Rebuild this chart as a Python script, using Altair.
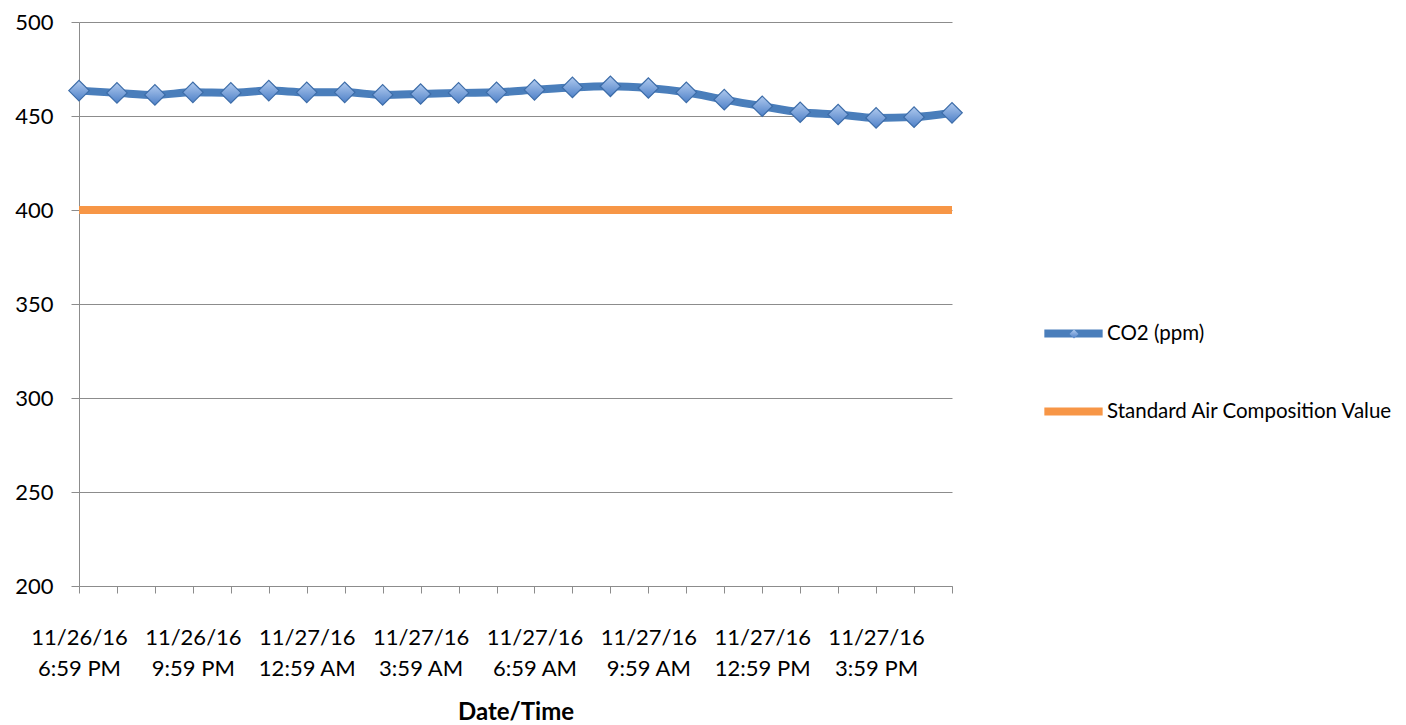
import json
import altair as alt
import pandas as pd

# ---- data ----
timestamps = [
    "11/26/16 6:59 PM", "11/26/16 7:59 PM", "11/26/16 8:59 PM", "11/26/16 9:59 PM",
    "11/26/16 10:59 PM", "11/26/16 11:59 PM", "11/27/16 12:59 AM", "11/27/16 1:59 AM",
    "11/27/16 2:59 AM", "11/27/16 3:59 AM", "11/27/16 4:59 AM", "11/27/16 5:59 AM",
    "11/27/16 6:59 AM", "11/27/16 7:59 AM", "11/27/16 8:59 AM", "11/27/16 9:59 AM",
    "11/27/16 10:59 AM", "11/27/16 11:59 AM", "11/27/16 12:59 PM", "11/27/16 1:59 PM",
    "11/27/16 2:59 PM", "11/27/16 3:59 PM", "11/27/16 4:59 PM", "11/27/16 5:59 PM",
]
co2_ppm = [
    463.5, 462.3, 461.2, 462.6, 462.3, 463.5, 462.6, 462.6,
    461.2, 461.7, 462.3, 462.6, 463.9, 465.2, 465.8, 464.9,
    462.6, 458.7, 455.2, 452.0, 450.8, 449.0, 449.4, 451.7,
]
standard_air = [400] * 24
series_names = ["CO2 (ppm)", "Standard Air Composition Value"]
series_colors = ["#4A7EBB", "#F79646"]
y_ticks = [200, 250, 300, 350, 400, 450, 500]

label_dates = [t.split(" ", 1)[0] for t in timestamps]
label_times = [t.split(" ", 1)[1] for t in timestamps]

idx = list(range(len(timestamps)))
df_co2 = pd.DataFrame({"idx": idx, "value": co2_ppm, "series": series_names[0],
                       "marker": series_names[0], "time": timestamps})
df_std = pd.DataFrame({"idx": idx, "value": standard_air, "series": series_names[1], "time": timestamps})
df = pd.concat([df_std, df_co2.drop(columns=["marker"])], ignore_index=True)

FONT = "Lato"
GRAY = "#8C8C8C"

label_expr = (
    "round(datum.value) % 3 == 0 ? ["
    + json.dumps(label_dates) + "[round(datum.value)], "
    + json.dumps(label_times) + "[round(datum.value)]] : ''"
)

x_enc = alt.X(
    "idx:Q",
    scale=alt.Scale(domain=[0, len(timestamps) - 1], nice=False, zero=False),
    axis=alt.Axis(
        values=idx, tickCount=len(idx), labelExpr=label_expr, grid=False,
        domainColor=GRAY, tickColor=GRAY, tickSize=7, domainWidth=1, tickWidth=1,
        labelFont=FONT, labelFontSize=22, labelColor="black", labelLineHeight=31,
        labelPadding=34, labelAngle=0, labelOverlap=False, labelFlush=False,
        labelBound=False,
        title="Date/Time", titleFont=FONT, titleFontSize=24, titleFontWeight="bold",
        titleColor="black", titleY=133, titleBaseline="alphabetic",
    ),
)
y_enc = alt.Y(
    "value:Q",
    scale=alt.Scale(domain=[200, 500], nice=False, zero=False),
    axis=alt.Axis(
        values=y_ticks, grid=True, gridColor=GRAY, gridWidth=1,
        domainColor=GRAY, tickColor=GRAY, tickSize=8, domainWidth=1,
        labelFont=FONT, labelFontSize=22, labelColor="black", labelPadding=18,
        title=None,
    ),
)

lines = alt.Chart(df).mark_line(strokeWidth=8, interpolate="monotone").encode(
    x=x_enc,
    y=y_enc,
    stroke=alt.Stroke(
        "series:N",
        scale=alt.Scale(domain=series_names, range=series_colors),
        sort=series_names,
        legend=alt.Legend(
            orient="none", legendX=961, legendY=278, title=None,
            symbolType="stroke", symbolSize=3400, symbolStrokeWidth=8,
            labelFont=FONT, labelFontSize=20.5, labelColor="black",
            labelLimit=600, rowPadding=28, padding=0, labelOffset=0,
        ),
    ),
    detail="series:N",
)

diamond_fill = alt.Gradient(
    gradient="linear",
    stops=[
        alt.GradientStop(color="#AFC9EE", offset=0),
        alt.GradientStop(color="#4F81C8", offset=1),
    ],
    x1=0, x2=0, y1=0, y2=1,
)

points = alt.Chart(df_co2).mark_point(
    size=420, filled=True, fill=diamond_fill,
    stroke="#3C6CA8", strokeWidth=1.2, opacity=1,
).encode(
    x=x_enc,
    y=y_enc,
    shape=alt.Shape(
        "marker:N",
        scale=alt.Scale(domain=[series_names[0]], range=["diamond"]),
        legend=alt.Legend(
            orient="none", legendX=990, legendY=307, title=None,
            symbolSize=80, symbolFillColor="#7EA6E0", symbolStrokeColor="#3C6CA8",
            symbolStrokeWidth=1, labelExpr="''", labelFontSize=1, padding=0,
        ),
    ),
)

chart = (
    alt.layer(lines, points)
    .properties(
        width=873, height=564,
        autosize=alt.AutoSizeParams(type="none"),
        padding={"left": 71, "top": 14, "right": 446, "bottom": 139},
    )
    .configure_view(strokeWidth=0)
)

chart.save("out.html", embed_options={"renderer": "svg", "actions": False})
